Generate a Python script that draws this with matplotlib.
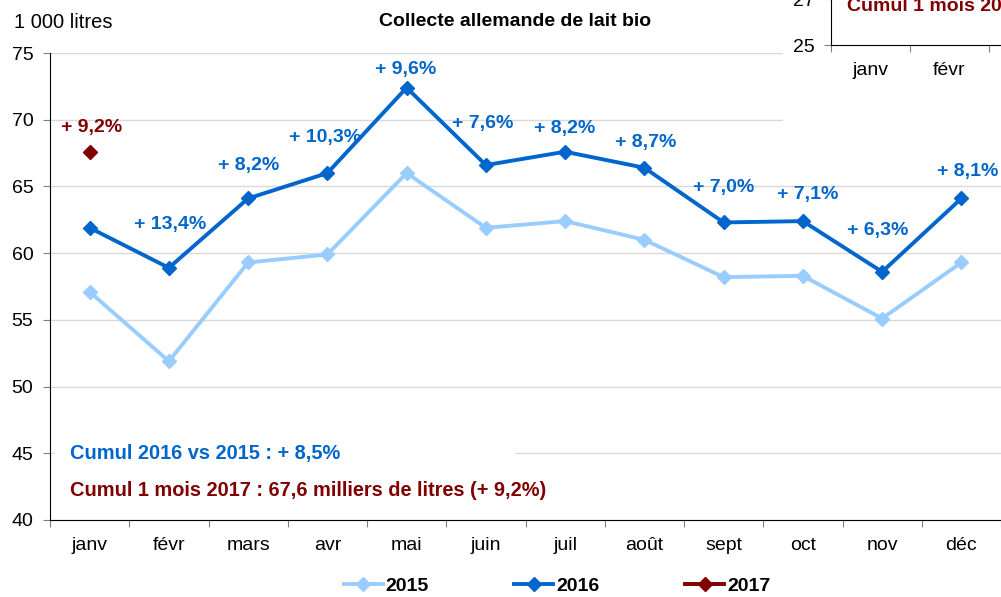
import matplotlib.pyplot as plt
from matplotlib.patches import Rectangle
import numpy as np

plt.rcParams['font.family'] = ['Liberation Sans', 'DejaVu Sans']

months = ['janv', 'févr', 'mars', 'avr', 'mai', 'juin', 'juil', 'août', 'sept', 'oct', 'nov', 'déc']
v2015 = [57.1, 51.9, 59.3, 59.9, 66.0, 61.9, 62.4, 61.0, 58.2, 58.3, 55.1, 59.3]
v2016 = [61.9, 58.9, 64.1, 66.0, 72.4, 66.6, 67.6, 66.4, 62.3, 62.4, 58.6, 64.1]
v2017 = [67.6]
labels2016 = [None, '+ 13,4%', '+ 8,2%', '+ 10,3%', '+ 9,6%', '+ 7,6%', '+ 8,2%',
              '+ 8,7%', '+ 7,0%', '+ 7,1%', '+ 6,3%', '+ 8,1%']
label2017 = '+ 9,2%'

C15 = '#99CCFF'
C16 = '#0066CC'
C17 = '#800000'

# label offsets in pixels (dx, dy)
offs = [None, (1, 43), (0, 33), (-2, 36), (-1, 18), (-3, 42), (0, 23),
        (1, 25), (0, 35), (5, 27), (-4, 41), (6, 27)]


def main():
    fig = plt.figure(figsize=(10.01, 5.97), dpi=100)
    W, H = 1001, 597
    ax = fig.add_axes([50 / W, 1 - 520 / H, 951 / W, 467 / H])
    x = np.arange(len(months))

    l15, = ax.plot(x, v2015, color=C15, lw=2.8, marker='D', ms=7, label='2015', zorder=3)
    l16, = ax.plot(x, v2016, color=C16, lw=2.8, marker='D', ms=7, label='2016', zorder=4)
    l17, = ax.plot(x[:len(v2017)], v2017, color=C17, lw=2.8, marker='D', ms=7,
                   label='2017', zorder=4)

    for i, lab in enumerate(labels2016):
        if lab is None:
            continue
        ax.annotate(lab, (x[i], v2016[i]), xytext=offs[i], textcoords='offset pixels',
                    ha='center', va='center', color=C16, fontsize=14, fontweight='bold',
                    zorder=5)
    ax.annotate(label2017, (x[0], v2017[0]), xytext=(2, 24), textcoords='offset pixels',
                ha='center', va='center', color=C17, fontsize=14, fontweight='bold')

    ax.set_xlim(-0.5, 11.5)
    ax.set_ylim(40, 75)
    ax.set_yticks(np.arange(40, 76, 5))
    ax.set_xticks(np.arange(-0.5, 12, 1))
    ax.set_xticklabels([])
    ax.set_xticks(x, minor=True)
    ax.set_xticklabels(months, minor=True)
    ax.tick_params(axis='x', which='major', length=5, color='#808080', direction='out')
    ax.tick_params(axis='x', which='minor', length=0, pad=12, labelsize=14)
    ax.tick_params(axis='y', length=5, color='#808080', pad=7, labelsize=14)
    ax.grid(axis='y', color='#D9D9D9', lw=1)
    ax.set_axisbelow(True)
    for s in ['top', 'right']:
        ax.spines[s].set_visible(False)
    ax.spines['left'].set_color('black')
    ax.spines['bottom'].set_color('black')

    # white box behind cumul text
    ax.add_patch(Rectangle((5 / 951, (44.3 - 40) / 35), 460 / 951, 1.4 / 35,
                           transform=ax.transAxes, facecolor='white', edgecolor='none',
                           zorder=1))
    ax.text(20 / 951, 45, 'Cumul 2016 vs 2015 : + 8,5%', transform=ax.get_yaxis_transform(),
            color=C16, fontsize=14.4, fontweight='bold', va='center', ha='left', zorder=2)
    ax.text(20 / 951, 42.2, 'Cumul 1 mois 2017 : 67,6 milliers de litres (+ 9,2%)',
            transform=ax.get_yaxis_transform(), color=C17, fontsize=14.4,
            fontweight='bold', va='center', ha='left', zorder=2)

    fig.text(14 / W, 1 - 22 / H, '1 000 litres', fontsize=14.5, va='center', ha='left')
    fig.text(515 / W, 1 - 22 / H, 'Collecte allemande de lait bio', fontsize=14,
             fontweight='bold', va='center', ha='center')

    fig.legend(handles=[l15, l16, l17], loc='center', bbox_to_anchor=(557 / W, 1 - 586 / H),
               ncol=3, frameon=False, handlelength=2.0, handletextpad=0.15,
               columnspacing=4.4, prop={'weight': 'bold', 'size': 14})

    # partially visible chart in the top right corner
    fig.patches.append(Rectangle((783 / W, 1 - 150 / H), 1, 1, transform=fig.transFigure,
                                 facecolor='white', edgecolor='none', zorder=1))
    ins = fig.add_axes([831 / W, 1 - 45 / H, 300 / W, 60 / H], zorder=2)
    ins.set_ylim(25, 25 + 2 * 60 / 46)
    ins.set_yticks([25, 27])
    ins.set_xlim(-0.5, -0.5 + 300 / 79)
    ins.set_xticks(np.arange(-0.5, 3.5, 1))
    ins.set_xticklabels([])
    ins.set_xticks([0, 1, 2, 3], minor=True)
    ins.set_xticklabels(['janv', 'févr', 'mars', 'avr'], minor=True)
    ins.tick_params(axis='x', which='major', length=5, color='#808080')
    ins.tick_params(axis='x', which='minor', length=0, pad=12, labelsize=14)
    ins.tick_params(axis='y', length=5, color='#808080', pad=7, labelsize=14)
    for s in ['top', 'right']:
        ins.spines[s].set_visible(False)
    ins.text(16 / 300, 38 / 60, 'Cumul 1 mois 2017 : 67,6 milliers de litres',
             transform=ins.transAxes, color=C17, fontsize=14, fontweight='bold',
             va='center', ha='left')

    fig.savefig('out.png', dpi=100)


if __name__ == '__main__':
    main()
